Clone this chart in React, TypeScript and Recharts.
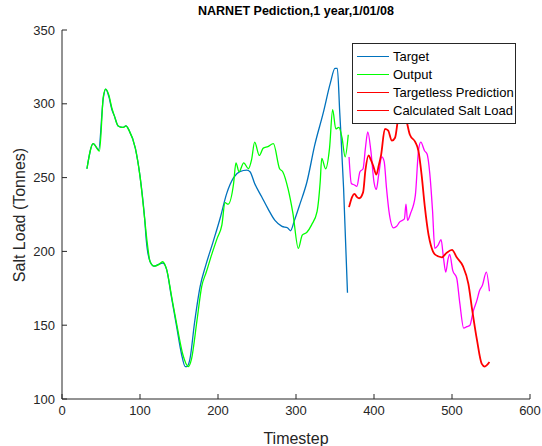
import { LineChart, Line, XAxis, YAxis, Legend } from "recharts";

const FONT = '"Liberation Sans", Arial, Helvetica, sans-serif';
const INK = "#262626";

const xTicks = [0, 100, 200, 300, 400, 500, 600];
const yTicks = [100, 150, 200, 250, 300, 350];

// measured record (timestep -> tonnes)
const targetSteps = [
  32, 40, 47, 53, 56, 60, 64, 67, 72, 78, 82, 86, 94, 100, 106, 108, 113, 118,
  123, 129, 134, 140, 147, 153, 158, 160, 164, 170, 177, 184, 194, 203, 211,
  220, 228, 237, 241, 247, 256, 264, 273, 282, 289, 293, 298, 305, 314, 324,
  335, 344, 350, 353, 356, 361, 366,
];
const targetLoad = [
  256, 273, 269, 304, 310, 305, 296, 292, 285, 284, 285, 282, 270, 251, 222,
  208, 193, 190, 191, 192, 188, 170, 149, 131, 122, 122, 127, 152, 176, 190,
  207, 223, 239, 250, 254, 255, 254, 246, 237, 229, 221, 217, 216, 214, 221,
  232, 247, 272, 294, 314, 324, 324, 295, 243, 172,
];

// network output over the training year
const outputSteps = [
  32, 40, 48, 53, 56, 60, 64, 67, 72, 78, 82, 86, 94, 100, 106, 109, 113, 118,
  124, 129, 134, 141, 148, 155, 162, 166, 173, 179, 185, 192, 199, 205, 209,
  213, 220, 223, 227, 233, 239, 243, 247, 253, 258, 264, 271, 279, 283, 290,
  296, 303, 308, 314, 320, 327, 331, 333, 338, 343, 347, 351, 355, 359, 363,
  367,
];
const outputLoad = [
  256, 273, 268, 305, 310, 306, 297, 292, 285, 284, 285, 282, 270, 251, 222,
  207, 193, 190, 191, 193, 188, 168, 148, 130, 122, 127, 153, 176, 186, 198,
  209, 218, 233, 232, 246, 260, 254, 260, 256, 262, 274, 265, 270, 271, 273,
  256, 254, 242, 226, 202, 211, 213, 218, 227, 247, 263, 256, 270, 296, 283,
  284, 277, 264, 279,
];

// closed-loop prediction past the end of the record
const predSteps = [
  368, 371, 375, 378, 382, 386, 389, 392, 396, 400, 403, 406, 410, 413, 416,
  419, 425, 429, 433, 439, 441, 443, 447, 453, 457, 460, 465, 468, 472, 475,
  478, 482, 486, 489, 492, 495, 497, 501, 506, 510, 515, 519, 523, 527, 532,
  535, 539, 544, 548,
];
const predLoad = [
  264, 246, 245, 244, 254, 256, 270, 281, 268, 247, 242, 252, 264, 261, 243,
  228, 216, 217, 220, 222, 232, 221, 226, 238, 268, 274, 268, 266, 250, 228,
  202, 204, 208, 196, 186, 195, 198, 187, 182, 165, 148, 149, 150, 159, 167,
  173, 177, 186, 173,
];

// calculated salt load
const calcSteps = [
  368, 372, 375, 378, 381, 386, 389, 393, 396, 399, 403, 406, 409, 414, 418,
  423, 427, 431, 435, 440, 446, 453, 457, 461, 465, 470, 473, 478, 487, 493,
  500, 506, 514, 521, 526, 532, 538, 542, 548,
];
const calcLoad = [
  230, 237, 239, 237, 236, 240, 255, 265, 262, 258, 252, 258, 265, 283, 282,
  275, 277, 290, 296, 292, 279, 274, 268, 252, 231, 211, 204, 198, 196, 199,
  201, 196, 190, 178, 160, 140, 124, 122, 125,
];

const legendNames = ["Target", "Output", "Targetless Prediction", "Calculated Salt Load"];
const legendColors = ["#0072BD", "#00FF00", "#FF0000", "#FF0000"];

const toPoints = (steps: number[], load: number[]) =>
  steps.map((step, i) => ({ step, load: load[i] }));

const LegendBox = () => (
  <div
    style={{
      background: "#fff",
      border: `1px solid ${INK}`,
      padding: "3px 0 4px 0",
      fontFamily: FONT,
      fontSize: 13,
      color: "#000",
      width: 164,
      boxSizing: "border-box",
    }}
  >
    {legendNames.map((name, i) => (
      <div key={name} style={{ display: "flex", alignItems: "center", height: 18 }}>
        <div style={{ width: 32, height: 0, borderTop: `1px solid ${legendColors[i]}`, marginLeft: 4, marginRight: 4 }} />
        <span>{name}</span>
      </div>
    ))}
  </div>
);

export default function App() {
  return (
    <div style={{ position: "absolute", left: 0, top: 0, width: 542, height: 446, background: "#fff" }}>
      <div
        style={{
          position: "absolute",
          left: 62,
          width: 468,
          top: 4,
          textAlign: "center",
          fontFamily: FONT,
          fontWeight: "bold",
          fontSize: 12.5,
          color: "#000",
        }}
      >
        NARNET Pediction,1 year,1/01/08
      </div>
      <div
        style={{
          position: "absolute",
          left: 20,
          top: 215,
          transform: "translate(-50%, -50%) rotate(-90deg)",
          whiteSpace: "nowrap",
          fontFamily: FONT,
          fontSize: 16,
          color: INK,
        }}
      >
        Salt Load (Tonnes)
      </div>
      <LineChart width={542} height={446} margin={{ top: 30, right: 12, bottom: 0, left: 0 }}>
        <XAxis
          dataKey="step"
          type="number"
          domain={[0, 600]}
          ticks={xTicks}
          allowDataOverflow
          height={47}
          stroke={INK}
          tickSize={-5}
          tickMargin={12}
          tick={{ fill: INK, fontSize: 13, fontFamily: FONT }}
          label={{ value: "Timestep", position: "insideBottom", offset: 2, fill: INK, fontSize: 16, fontFamily: FONT }}
        />
        <YAxis
          type="number"
          domain={[100, 350]}
          ticks={yTicks}
          allowDataOverflow
          width={62}
          stroke={INK}
          tickSize={-5}
          tickMargin={12}
          tick={{ fill: INK, fontSize: 13, fontFamily: FONT }}
        />
        <Line data={toPoints(targetSteps, targetLoad)} dataKey="load" name="Target" type="monotone" stroke="#0072BD" strokeWidth={1.3} dot={false} isAnimationActive={false} />
        <Line data={toPoints(outputSteps, outputLoad)} dataKey="load" name="Output" type="monotone" stroke="#00FF00" strokeWidth={1.3} dot={false} isAnimationActive={false} />
        <Line data={toPoints(predSteps, predLoad)} dataKey="load" name="Prediction" type="monotone" stroke="#FF00FF" strokeWidth={1.3} dot={false} legendType="none" isAnimationActive={false} />
        <Line data={toPoints(calcSteps, calcLoad)} dataKey="load" name="Calculated Salt Load" type="monotone" stroke="#FF0000" strokeWidth={1.8} dot={false} isAnimationActive={false} />
        <Legend
          layout="vertical"
          verticalAlign="middle"
          align="center"
          content={() => <LegendBox />}
          wrapperStyle={{ left: 352, top: 43, width: 166, height: 76 }}
        />
      </LineChart>
    </div>
  );
}
